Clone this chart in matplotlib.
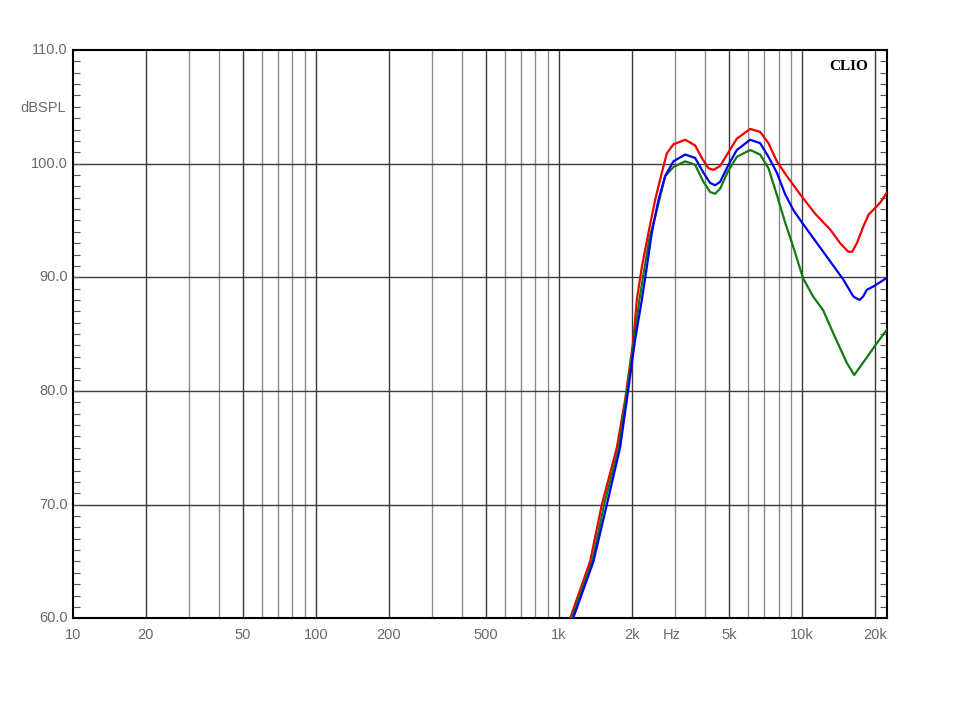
import numpy as np
import matplotlib
matplotlib.use("Agg")
import matplotlib.pyplot as plt
from matplotlib.ticker import FixedLocator, NullFormatter, NullLocator

# frequency response curves (Hz, dBSPL)
red_f = [1111, 1343, 1500, 1729, 1870, 2023, 2089, 2191, 2332, 2485, 2648, 2776,
         2955, 3302, 3630, 3867, 4117, 4316, 4600, 4975, 5388, 6111, 6717, 7268,
         7870, 8652, 9812, 11300, 13040, 14330, 15470, 16060, 16790, 17870, 18750,
         19960, 21000, 22390]
red_db = [60.0, 65.0, 70.0, 75.0, 79.2, 84.5, 88.0, 90.9, 93.9, 96.8, 99.2, 100.9,
          101.7, 102.1, 101.6, 100.5, 99.6, 99.45, 99.8, 101.0, 102.2, 103.05, 102.8, 101.8,
          100.2, 98.9, 97.3, 95.6, 94.2, 93.0, 92.25, 92.25, 93.0, 94.5, 95.5,
          96.1, 96.6, 97.5]

blue_f = [1143, 1386, 1573, 1783, 1901, 2056, 2191, 2297, 2408, 2564, 2732, 2955,
          3302, 3630, 3926, 4184, 4386, 4600, 4975, 5388, 6111, 6717, 7268, 7870,
          8514, 9209, 10000, 12640, 14760, 16250, 17210, 17800, 18450, 19650, 22300]
blue_db = [60.0, 65.0, 70.0, 75.0, 79.2, 84.5, 88.0, 90.9, 93.9, 96.8, 98.9, 100.2,
           100.8, 100.5, 99.2, 98.3, 98.1, 98.4, 99.9, 101.2, 102.1, 101.8, 100.6, 99.2,
           97.3, 95.9, 94.8, 91.8, 89.8, 88.3, 88.0, 88.3, 88.9, 89.2, 89.95]

green_f = [1127, 1370, 1533, 1760, 1880, 2040, 2140, 2250, 2354, 2564, 2732, 2955,
           3302, 3630, 3926, 4184, 4386, 4600, 4975, 5388, 6111, 6717, 7268, 7870,
           8514, 9185, 10090, 11100, 12200, 13410, 15280, 16370, 17820, 20280, 22300]
green_db = [60.0, 65.0, 70.0, 75.0, 79.2, 84.5, 88.0, 90.9, 93.4, 96.5, 98.9, 99.7,
            100.2, 99.9, 98.4, 97.5, 97.35, 97.8, 99.4, 100.6, 101.2, 100.8, 99.6, 97.25,
            94.8, 92.7, 89.9, 88.3, 87.1, 85.1, 82.45, 81.4, 82.5, 84.2, 85.4]

x_labels = {10: "10", 20: "20", 50: "50", 100: "100", 200: "200", 500: "500",
            1000: "1k", 2000: "2k", 5000: "5k", 10000: "10k", 20000: "20k"}
y_ticks = [60, 70, 80, 90, 100, 110]

fig = plt.figure(figsize=(9.6, 7.2), dpi=100)
ax = fig.add_axes([0.0757, 0.1413, 0.9243 - 0.0757, 0.9306 - 0.1413])
ax.set_xscale("log")
ax.set_xlim(10, 22400)
ax.set_ylim(60, 110)

# vertical grid
for dec in [10, 100, 1000, 10000]:
    for m in range(1, 10):
        f = dec * m
        if f <= 10 or f > 22400:
            continue
        c = "#3a3a3a" if f in x_labels else "#8a8a8a"
        ax.axvline(f, color=c, lw=1.0, zorder=1)
for y in y_ticks[1:-1]:
    ax.axhline(y, color="#3a3a3a", lw=1.0, zorder=1)

ax.plot(red_f, red_db, color="#f00000", lw=1.6, zorder=3)
ax.plot(green_f, green_db, color="#127a12", lw=1.6, zorder=4)
ax.plot(blue_f, blue_db, color="#0000f0", lw=1.6, zorder=5)

for s in ax.spines.values():
    s.set_color("black")
    s.set_linewidth(1.5)

ax.xaxis.set_major_locator(NullLocator())
ax.xaxis.set_minor_locator(NullLocator())
ax.yaxis.set_major_locator(FixedLocator(list(range(60, 111))))
ax.yaxis.set_major_formatter(NullFormatter())
ax.tick_params(axis="y", which="major", direction="in", length=5, width=0.8,
               color="#555555", left=True, right=True)

lab = dict(color="#6a6a6a", fontsize=10.5, family="Liberation Sans")
for y in y_ticks:
    ax.text(-0.006, y, "%.1f" % y, transform=ax.get_yaxis_transform(),
            ha="right", va="center", **lab)
for f, t in x_labels.items():
    ax.text(f, -0.018, t, transform=ax.get_xaxis_transform(),
            ha="center", va="top", **lab)
ax.text(2900, -0.018, "Hz", transform=ax.get_xaxis_transform(),
        ha="center", va="top", **lab)
fig.text(0.021, 0.85, "dBSPL", ha="left", va="center", **lab)
ax.text(0.976, 0.983, "CLIO", transform=ax.transAxes, ha="right", va="top",
        fontsize=11, fontweight="bold", family="Liberation Serif", color="black")

fig.savefig("out.png", dpi=100, facecolor="white")
